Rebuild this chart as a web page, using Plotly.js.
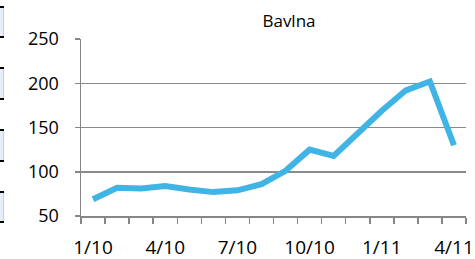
<!DOCTYPE html>
<html>
<head>
<meta charset="utf-8">
<script src="https://cdn.plot.ly/plotly-3.0.1.min.js"></script>
<style>html,body{margin:0;padding:0;background:#fff}#chart{width:475px;height:259px}</style>
</head>
<body>
<div id="chart"></div>
<script>
const categories = ['1/10','2/10','3/10','4/10','5/10','6/10','7/10','8/10','9/10','10/10','11/10','12/10','1/11','2/11','3/11','4/11'];
const values = [69, 82, 81, 84, 80, 77, 79, 86, 101, 125, 118, 144, 169, 192, 202, 130];
const yTicks = [50, 100, 150, 200, 250];
const tickText = categories.map((c, i) => (i % 3 === 0 ? c : ''));

const W = 475, H = 259, L = 81, R = 9, T = 39, B = 43;
const pw = W - L - R, ph = H - T - B;
const px = x => (x - L) / pw;
const py = y => (H - B - y) / ph;

const shapes = [];
// fragment of neighbouring element on the left edge
const segs = [[7, 37], [68, 99], [130, 161], [192, 222]];
segs.forEach(s => {
  shapes.push({type: 'rect', xref: 'paper', yref: 'paper', x0: px(0), x1: px(3), y0: py(s[1]), y1: py(s[0]), fillcolor: '#E8EEF7', line: {width: 0}, layer: 'above'});
  shapes.push({type: 'line', xref: 'paper', yref: 'paper', x0: px(3.5), x1: px(3.5), y0: py(s[1]), y1: py(s[0]), line: {color: '#C8CCD4', width: 1}});
});
[7, 37, 68, 99, 130, 161, 192, 222].forEach(y => {
  shapes.push({type: 'line', xref: 'paper', yref: 'paper', x0: px(0), x1: px(4), y0: py(y), y1: py(y), line: {color: '#000', width: 2}});
});

const trace = {
  x: categories, y: values, type: 'scatter', mode: 'lines',
  line: {color: '#41B4E6', width: 6, shape: 'linear'},
  hoverinfo: 'skip'
};

const layout = {
  width: W, height: H,
  margin: {l: L, r: R, t: T, b: B, pad: 0},
  paper_bgcolor: '#fff', plot_bgcolor: '#fff',
  font: {family: 'Open Sans, Liberation Sans, sans-serif', size: 18, color: '#000'},
  title: {text: 'Bavlna', x: 289 / W, xref: 'container', xanchor: 'center', y: 1 - 21 / H, yanchor: 'middle', font: {size: 17, color: '#000'}},
  showlegend: false,
  xaxis: {
    type: 'category', tickmode: 'array', tickvals: categories, ticktext: tickText,
    tickson: 'boundaries', ticks: 'outside', ticklen: 6, tickcolor: '#868686', tickwidth: 1.5,
    showline: true, linecolor: '#868686', linewidth: 1.5, showgrid: false, zeroline: false,
    range: [-0.5, categories.length - 0.5], ticklabelstandoff: 14, tickangle: 0,
    tickfont: {size: 19}, fixedrange: true
  },
  yaxis: {
    range: [50, 250], tickmode: 'array', tickvals: yTicks,
    ticks: 'outside', ticklen: 5, tickcolor: '#868686', tickwidth: 1.5,
    showline: true, linecolor: '#868686', linewidth: 1.5,
    showgrid: true, gridcolor: '#8A8A8A', gridwidth: 1.5, zeroline: false,
    ticklabelstandoff: 12, tickfont: {size: 18}, fixedrange: true
  },
  shapes: shapes
};

Plotly.newPlot('chart', [trace], layout, {displayModeBar: false, staticPlot: true});
</script>
</body>
</html>
